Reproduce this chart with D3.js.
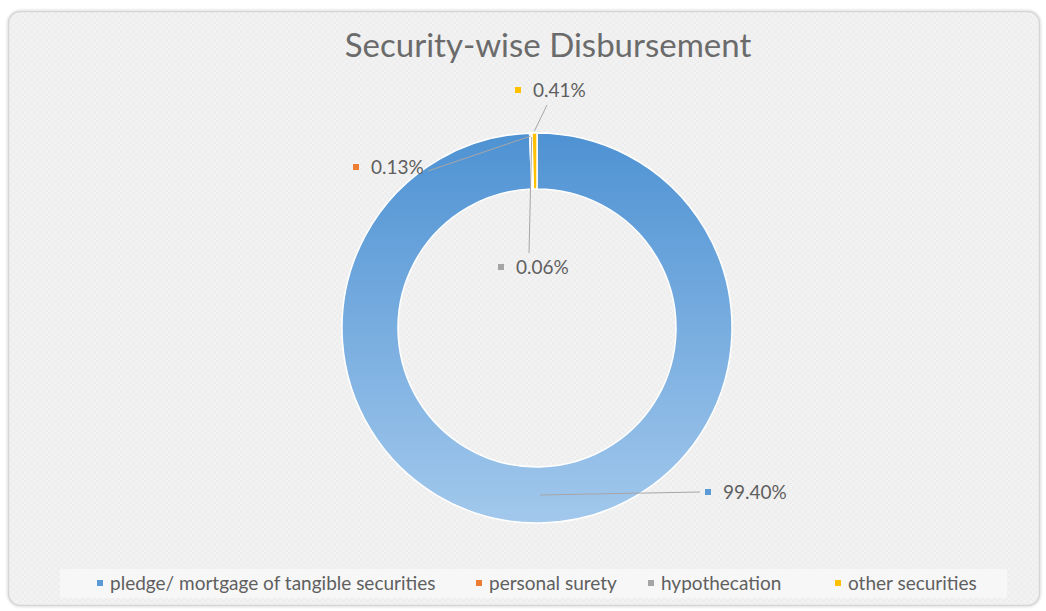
<!DOCTYPE html>
<html>
<head>
<meta charset="utf-8">
<script src="https://cdn.jsdelivr.net/npm/d3@7"></script>
<style>
  html, body { margin: 0; padding: 0; background: #ffffff; }
  svg { display: block; }
  text { font-family: Lato, "Open Sans", "DejaVu Sans", sans-serif; }
</style>
</head>
<body>
<svg id="chart" width="1046" height="611"></svg>
<script>
// ---- data ----
const title = "Security-wise Disbursement";
const categories = ["pledge/ mortgage of tangible securities", "personal surety", "hypothecation", "other securities"];
const values = [99.40, 0.13, 0.06, 0.41];
const valueLabels = ["99.40%", "0.13%", "0.06%", "0.41%"];
const colors = ["#5b9bd5", "#ed7d31", "#a5a5a5", "#ffc000"];

// ---- layout ----
const cx = 537, cy = 328, rOuter = 195, rInner = 139;
// label layout: marker position (relative to chart centre), leader end, leader anchor radius
const labelLayout = [
  { mx: 171, my: 164, lineTo: [163, 164], lineR: 167 },    // 99.40%
  { mx: -181, my: -161, lineTo: [-109, -157], lineR: 192 }, // 0.13%
  { mx: -36, my: -61, lineTo: [-8, -75], lineR: 191 },      // 0.06%
  { mx: -19, my: -238, lineTo: [10, -223], lineR: 197 }     // 0.41%
];
const legendMarkerX = [100, 479, 651, 838];

const svg = d3.select("#chart");
const defs = svg.append("defs");

// subtle checker texture of the plot card
const pat = defs.append("pattern").attr("id", "chk").attr("width", 6).attr("height", 6)
  .attr("patternUnits", "userSpaceOnUse");
pat.append("rect").attr("width", 6).attr("height", 6).attr("fill", "#f2f2f2");
pat.append("rect").attr("width", 3).attr("height", 3).attr("fill", "#eeeeee");
pat.append("rect").attr("x", 3).attr("y", 3).attr("width", 3).attr("height", 3).attr("fill", "#eeeeee");

const shadow = defs.append("filter").attr("id", "shadow").attr("x", "-5%").attr("y", "-5%").attr("width", "110%").attr("height", "110%");
shadow.append("feGaussianBlur").attr("in", "SourceAlpha").attr("stdDeviation", 1.5);
shadow.append("feComponentTransfer").append("feFuncA").attr("type", "linear").attr("slope", 0.25);
const fm = shadow.append("feMerge");
fm.append("feMergeNode");
fm.append("feMergeNode").attr("in", "SourceGraphic");

// gradient for main slice (coordinates relative to the donut group)
const grad = defs.append("linearGradient").attr("id", "blueGrad")
  .attr("gradientUnits", "userSpaceOnUse")
  .attr("x1", 0).attr("y1", -rOuter).attr("x2", 0).attr("y2", rOuter);
grad.append("stop").attr("offset", "0%").attr("stop-color", "#4e92d3");
grad.append("stop").attr("offset", "100%").attr("stop-color", "#a2c8ec");

// card
svg.append("rect")
  .attr("x", 8.5).attr("y", 11.5).attr("width", 1031).attr("height", 594)
  .attr("rx", 12).attr("ry", 12)
  .attr("fill", "url(#chk)").attr("stroke", "#d6d6d6").attr("stroke-width", 1.5)
  .attr("filter", "url(#shadow)");

// title
svg.append("text")
  .attr("x", 548).attr("y", 57)
  .attr("text-anchor", "middle")
  .attr("font-size", 33)
  .attr("fill", "#6b6b6b")
  .text(title);

// donut
const pie = d3.pie().sort(null).value(d => d).startAngle(0).endAngle(2 * Math.PI);
const arcs = pie(values);
const arc = d3.arc().innerRadius(rInner).outerRadius(rOuter);

const g = svg.append("g").attr("transform", `translate(${cx},${cy})`);
g.selectAll("path.slice")
  .data(arcs)
  .enter().append("path")
  .attr("class", "slice")
  .attr("d", arc)
  .attr("fill", (d, i) => i === 0 ? "url(#blueGrad)" : colors[i])
  .attr("stroke", "#ffffff")
  .attr("stroke-width", 1.5);

// leader lines
arcs.forEach((a, i) => {
  const L = labelLayout[i];
  const mid = (a.startAngle + a.endAngle) / 2;
  const sx = L.lineR * Math.sin(mid), sy = -L.lineR * Math.cos(mid);
  g.append("line")
    .attr("x1", sx).attr("y1", sy)
    .attr("x2", L.lineTo[0]).attr("y2", L.lineTo[1])
    .attr("stroke", "#a6a6a6").attr("stroke-width", 1);
});

// data labels
arcs.forEach((a, i) => {
  const L = labelLayout[i];
  g.append("rect")
    .attr("x", L.mx - 3).attr("y", L.my - 3).attr("width", 6).attr("height", 6)
    .attr("fill", colors[i]);
  g.append("text")
    .attr("x", L.mx + 15).attr("y", L.my)
    .attr("dy", "0.35em")
    .attr("font-size", 19)
    .attr("fill", "#5f5f5f")
    .text(valueLabels[i]);
});

// legend
svg.append("rect")
  .attr("x", 60).attr("y", 569).attr("width", 947).attr("height", 29)
  .attr("fill", "#f7f7f7");
const lg = svg.append("g");
categories.forEach((c, i) => {
  lg.append("rect")
    .attr("x", legendMarkerX[i] - 3).attr("y", 580).attr("width", 6).attr("height", 6)
    .attr("fill", colors[i]);
  lg.append("text")
    .attr("x", legendMarkerX[i] + 10).attr("y", 583)
    .attr("dy", "0.35em")
    .attr("font-size", 19)
    .attr("fill", "#5f5f5f")
    .text(c);
});
</script>
</body>
</html>
